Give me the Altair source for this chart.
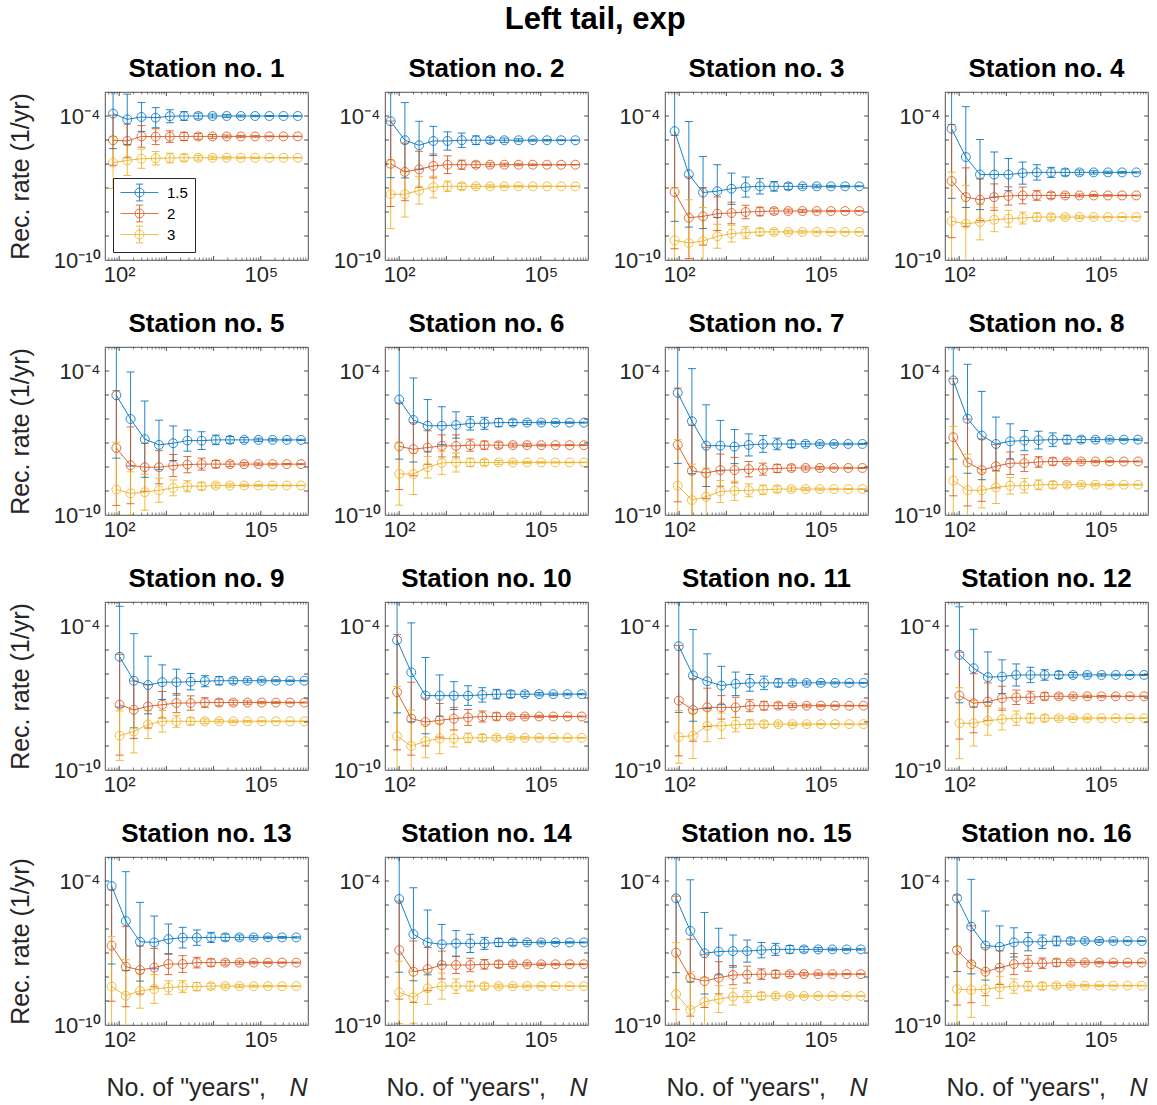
import altair as alt
import pandas as pd

FONT = "Liberation Sans"
FRAME = "#262626"

# ---------------- data ----------------
SERIES = ["1.5", "2", "3"]
COLORS = ["#0072BD", "#D95319", "#EDB120"]
DOUBLING = [1, 2, 4, 8, 16, 32, 64, 128, 256, 512, 1024, 2048, 4096, 8192]
# first N ("years") of each station's sequence
N_FIRST = [74, 66, 80, 69, 87, 100, 93, 75, 102, 90, 98, 101, 69, 100, 86, 90]

# log10 of recurrence rate, per station and series
S01_15 = [-3.90, -4.14, -4.04, -4.07, -4.01, -4.00, -4.00, -4.00, -4.00, -4.00, -4.00, -4.00, -4.00, -4.00]
S01_2 = [-5.01, -5.04, -4.85, -4.86, -4.86, -4.85, -4.85, -4.85, -4.85, -4.85, -4.85, -4.85, -4.85, -4.85]
S01_3 = [-5.94, -5.85, -5.78, -5.76, -5.75, -5.74, -5.74, -5.74, -5.74, -5.74, -5.74, -5.74, -5.74, -5.74]
S02_15 = [-4.22, -5.01, -5.22, -5.04, -5.04, -5.01, -5.01, -5.01, -5.01, -5.01, -5.01, -5.01, -5.01, -5.01]
S02_2 = [-5.99, -6.33, -6.22, -6.08, -6.03, -6.03, -6.03, -6.03, -6.03, -6.03, -6.03, -6.03, -6.03, -6.03]
S02_3 = [-7.26, -7.26, -7.10, -6.96, -6.93, -6.93, -6.93, -6.93, -6.93, -6.93, -6.93, -6.93, -6.93, -6.93]
S03_15 = [-4.63, -6.43, -7.19, -7.13, -7.03, -6.96, -6.93, -6.93, -6.93, -6.93, -6.93, -6.93, -6.93, -6.93]
S03_2 = [-7.17, -8.24, -8.18, -8.07, -8.04, -8.00, -7.98, -7.96, -7.96, -7.96, -7.96, -7.96, -7.96, -7.96]
S03_3 = [-9.18, -9.29, -9.21, -9.01, -8.90, -8.86, -8.83, -8.83, -8.83, -8.83, -8.83, -8.83, -8.83, -8.83]
S04_15 = [-4.53, -5.71, -6.44, -6.44, -6.44, -6.38, -6.35, -6.35, -6.35, -6.35, -6.35, -6.35, -6.35, -6.35]
S04_2 = [-6.71, -7.38, -7.49, -7.38, -7.33, -7.31, -7.31, -7.31, -7.31, -7.31, -7.31, -7.31, -7.31, -7.31]
S04_3 = [-8.38, -8.49, -8.42, -8.32, -8.28, -8.25, -8.21, -8.21, -8.21, -8.21, -8.21, -8.21, -8.21, -8.21]
S05_15 = [-5.01, -6.00, -6.84, -7.08, -7.01, -6.90, -6.90, -6.87, -6.87, -6.87, -6.87, -6.87, -6.87, -6.87]
S05_2 = [-7.21, -7.93, -8.01, -8.01, -7.94, -7.90, -7.88, -7.88, -7.88, -7.88, -7.88, -7.88, -7.88, -7.88]
S05_3 = [-8.94, -9.10, -9.05, -8.97, -8.87, -8.80, -8.80, -8.77, -8.77, -8.77, -8.77, -8.77, -8.77, -8.77]
S06_15 = [-5.19, -6.04, -6.28, -6.28, -6.25, -6.18, -6.18, -6.15, -6.15, -6.15, -6.15, -6.15, -6.15, -6.15]
S06_2 = [-7.14, -7.26, -7.19, -7.12, -7.12, -7.09, -7.09, -7.09, -7.09, -7.09, -7.09, -7.09, -7.09, -7.09]
S06_3 = [-8.29, -8.29, -8.01, -7.83, -7.81, -7.81, -7.81, -7.81, -7.81, -7.81, -7.81, -7.81, -7.81, -7.81]
S07_15 = [-4.91, -6.09, -7.11, -7.11, -7.15, -7.08, -7.04, -7.04, -7.04, -7.04, -7.04, -7.04, -7.04, -7.04]
S07_2 = [-7.08, -8.16, -8.25, -8.13, -8.13, -8.09, -8.09, -8.06, -8.04, -8.04, -8.04, -8.04, -8.04, -8.04]
S07_3 = [-8.78, -9.38, -9.24, -9.02, -8.99, -8.97, -8.95, -8.92, -8.92, -8.92, -8.92, -8.92, -8.92, -8.92]
S08_15 = [-4.39, -5.99, -6.69, -7.04, -6.93, -6.90, -6.88, -6.86, -6.86, -6.86, -6.86, -6.86, -6.86, -6.86]
S08_2 = [-6.76, -7.81, -8.13, -7.97, -7.84, -7.84, -7.79, -7.77, -7.77, -7.77, -7.77, -7.77, -7.77, -7.77]
S08_3 = [-8.57, -8.97, -8.97, -8.85, -8.78, -8.78, -8.74, -8.74, -8.74, -8.74, -8.74, -8.74, -8.74, -8.74]
S09_15 = [-5.28, -6.28, -6.46, -6.34, -6.34, -6.32, -6.30, -6.28, -6.28, -6.28, -6.28, -6.28, -6.28, -6.28]
S09_2 = [-7.28, -7.49, -7.35, -7.28, -7.21, -7.21, -7.19, -7.19, -7.19, -7.19, -7.19, -7.19, -7.19, -7.19]
S09_3 = [-8.57, -8.39, -8.11, -7.97, -7.97, -7.97, -7.97, -7.97, -7.97, -7.97, -7.97, -7.97, -7.97, -7.97]
S10_15 = [-4.59, -5.93, -6.90, -6.90, -6.90, -6.90, -6.87, -6.84, -6.84, -6.84, -6.84, -6.84, -6.84, -6.84]
S10_2 = [-6.76, -7.86, -8.00, -7.93, -7.86, -7.81, -7.77, -7.77, -7.77, -7.77, -7.77, -7.77, -7.77, -7.77]
S10_3 = [-8.59, -9.00, -8.80, -8.69, -8.69, -8.66, -8.66, -8.66, -8.66, -8.66, -8.66, -8.66, -8.66, -8.66]
S11_15 = [-4.84, -6.06, -6.30, -6.48, -6.41, -6.37, -6.37, -6.37, -6.37, -6.37, -6.37, -6.37, -6.37, -6.37]
S11_2 = [-7.11, -7.50, -7.39, -7.39, -7.39, -7.32, -7.32, -7.32, -7.32, -7.32, -7.32, -7.32, -7.32, -7.32]
S11_3 = [-8.62, -8.57, -8.16, -8.16, -8.11, -8.09, -8.09, -8.09, -8.09, -8.09, -8.09, -8.09, -8.09, -8.09]
S12_15 = [-5.20, -5.76, -6.13, -6.11, -6.04, -6.04, -6.04, -6.04, -6.04, -6.04, -6.04, -6.04, -6.04, -6.04]
S12_2 = [-6.90, -7.22, -7.15, -7.01, -6.97, -6.97, -6.93, -6.93, -6.93, -6.93, -6.93, -6.93, -6.93, -6.93]
S12_3 = [-8.05, -8.05, -7.95, -7.88, -7.84, -7.84, -7.84, -7.84, -7.84, -7.84, -7.84, -7.84, -7.84, -7.84]
S13_15 = [-4.21, -5.67, -6.53, -6.56, -6.42, -6.36, -6.36, -6.35, -6.35, -6.35, -6.35, -6.35, -6.35, -6.35]
S13_2 = [-6.69, -7.57, -7.71, -7.61, -7.46, -7.46, -7.40, -7.40, -7.40, -7.40, -7.40, -7.40, -7.40, -7.40]
S13_3 = [-8.40, -8.78, -8.58, -8.50, -8.44, -8.40, -8.40, -8.38, -8.38, -8.38, -8.38, -8.38, -8.38, -8.38]
S14_15 = [-4.75, -6.22, -6.56, -6.64, -6.60, -6.60, -6.60, -6.56, -6.56, -6.56, -6.56, -6.56, -6.56, -6.56]
S14_2 = [-6.88, -7.78, -7.67, -7.50, -7.50, -7.50, -7.47, -7.47, -7.47, -7.47, -7.47, -7.47, -7.47, -7.47]
S14_3 = [-8.64, -8.85, -8.47, -8.38, -8.38, -8.38, -8.38, -8.38, -8.38, -8.38, -8.38, -8.38, -8.38, -8.38]
S15_15 = [-4.72, -6.08, -7.01, -6.94, -6.92, -6.92, -6.88, -6.85, -6.85, -6.85, -6.85, -6.85, -6.85, -6.85]
S15_2 = [-6.99, -8.03, -8.17, -8.03, -7.92, -7.90, -7.88, -7.88, -7.88, -7.88, -7.88, -7.88, -7.88, -7.88]
S15_3 = [-8.72, -9.38, -9.03, -8.92, -8.82, -8.82, -8.79, -8.79, -8.79, -8.79, -8.79, -8.79, -8.79, -8.79]
S16_15 = [-4.72, -5.90, -6.69, -6.74, -6.56, -6.53, -6.53, -6.50, -6.50, -6.50, -6.50, -6.50, -6.50, -6.50]
S16_2 = [-6.88, -7.47, -7.78, -7.61, -7.46, -7.43, -7.43, -7.40, -7.40, -7.40, -7.40, -7.40, -7.40, -7.40]
S16_3 = [-8.50, -8.54, -8.51, -8.43, -8.38, -8.38, -8.38, -8.36, -8.36, -8.36, -8.36, -8.36, -8.36, -8.36]

# error-bar half length, in decades
E01_15 = [1.46, 1.05, 0.60, 0.42, 0.27, 0.18, 0.12, 0.08, 0.06, 0.04, 0.03, 0.02, 0.015, 0.01]
E01_2 = [1.04, 0.70, 0.45, 0.33, 0.24, 0.17, 0.12, 0.08, 0.06, 0.04, 0.03, 0.02, 0.015, 0.01]
E01_3 = [1.08, 0.63, 0.40, 0.28, 0.20, 0.14, 0.10, 0.07, 0.05, 0.035, 0.025, 0.018, 0.012, 0.01]
E02_15 = [2.35, 1.57, 1.00, 0.61, 0.38, 0.30, 0.18, 0.12, 0.09, 0.06, 0.04, 0.03, 0.02, 0.015]
E02_2 = [1.78, 1.20, 0.75, 0.50, 0.37, 0.19, 0.12, 0.08, 0.06, 0.04, 0.03, 0.02, 0.015, 0.01]
E02_3 = [1.43, 0.95, 0.57, 0.45, 0.22, 0.13, 0.08, 0.06, 0.04, 0.03, 0.02, 0.015, 0.01, 0.01]
E03_15 = [3.76, 2.20, 1.50, 1.10, 0.65, 0.42, 0.32, 0.20, 0.13, 0.08, 0.06, 0.04, 0.03, 0.02]
E03_2 = [2.36, 1.70, 1.20, 0.70, 0.45, 0.28, 0.18, 0.12, 0.08, 0.06, 0.04, 0.03, 0.02, 0.015]
E03_3 = [2.20, 1.80, 1.40, 0.50, 0.35, 0.25, 0.15, 0.10, 0.07, 0.05, 0.035, 0.025, 0.02, 0.015]
E04_15 = [2.90, 2.10, 1.46, 0.94, 0.67, 0.46, 0.32, 0.21, 0.14, 0.10, 0.07, 0.05, 0.035, 0.025]
E04_2 = [2.36, 1.22, 0.87, 0.55, 0.38, 0.35, 0.20, 0.13, 0.09, 0.06, 0.04, 0.03, 0.02, 0.015]
E04_3 = [2.04, 1.60, 0.74, 0.50, 0.35, 0.25, 0.17, 0.12, 0.08, 0.06, 0.04, 0.03, 0.02, 0.015]
E05_15 = [2.62, 1.96, 1.59, 1.03, 0.72, 0.44, 0.37, 0.20, 0.14, 0.10, 0.07, 0.05, 0.035, 0.025]
E05_2 = [2.39, 1.60, 1.00, 0.69, 0.46, 0.34, 0.25, 0.15, 0.10, 0.07, 0.05, 0.035, 0.025, 0.02]
E05_3 = [1.97, 0.90, 0.75, 0.50, 0.33, 0.23, 0.15, 0.10, 0.07, 0.05, 0.035, 0.025, 0.02, 0.015]
E06_15 = [2.48, 1.75, 1.09, 0.79, 0.55, 0.28, 0.25, 0.17, 0.12, 0.08, 0.06, 0.04, 0.03, 0.02]
E06_2 = [1.80, 1.10, 0.70, 0.46, 0.46, 0.25, 0.17, 0.12, 0.08, 0.06, 0.04, 0.03, 0.02, 0.015]
E06_3 = [1.30, 0.86, 0.45, 0.48, 0.40, 0.17, 0.12, 0.08, 0.06, 0.04, 0.03, 0.02, 0.015, 0.01]
E07_15 = [2.94, 2.19, 1.70, 1.05, 0.71, 0.46, 0.35, 0.24, 0.15, 0.10, 0.07, 0.05, 0.035, 0.025]
E07_2 = [2.37, 1.90, 1.07, 0.67, 0.53, 0.32, 0.25, 0.17, 0.12, 0.08, 0.06, 0.04, 0.03, 0.02]
E07_3 = [1.92, 1.50, 1.20, 0.46, 0.40, 0.27, 0.20, 0.13, 0.09, 0.06, 0.045, 0.03, 0.02, 0.015]
E08_15 = [3.28, 2.27, 1.84, 1.12, 0.73, 0.42, 0.37, 0.28, 0.18, 0.12, 0.08, 0.06, 0.04, 0.03]
E08_2 = [2.44, 1.81, 1.30, 0.90, 0.47, 0.35, 0.22, 0.15, 0.10, 0.07, 0.05, 0.035, 0.025, 0.02]
E08_3 = [2.26, 1.50, 0.73, 0.67, 0.35, 0.30, 0.20, 0.14, 0.10, 0.07, 0.05, 0.035, 0.025, 0.02]
E09_15 = [2.10, 1.96, 1.20, 0.72, 0.54, 0.34, 0.23, 0.17, 0.11, 0.08, 0.06, 0.04, 0.03, 0.02]
E09_2 = [2.10, 1.20, 0.90, 0.55, 0.40, 0.30, 0.20, 0.14, 0.10, 0.07, 0.05, 0.035, 0.025, 0.02]
E09_3 = [1.03, 0.90, 0.58, 0.45, 0.25, 0.15, 0.10, 0.07, 0.05, 0.035, 0.025, 0.02, 0.015, 0.01]
E10_15 = [3.03, 2.06, 1.59, 0.86, 0.58, 0.41, 0.30, 0.20, 0.14, 0.10, 0.07, 0.05, 0.035, 0.025]
E10_2 = [2.40, 1.52, 1.00, 0.70, 0.47, 0.33, 0.23, 0.15, 0.10, 0.07, 0.05, 0.035, 0.025, 0.02]
E10_3 = [2.07, 1.50, 0.69, 0.63, 0.35, 0.20, 0.14, 0.10, 0.07, 0.05, 0.035, 0.025, 0.02, 0.015]
E11_15 = [2.76, 1.91, 1.14, 0.80, 0.49, 0.35, 0.28, 0.17, 0.12, 0.08, 0.06, 0.04, 0.03, 0.02]
E11_2 = [2.30, 1.30, 0.80, 0.49, 0.42, 0.25, 0.18, 0.12, 0.08, 0.06, 0.04, 0.03, 0.02, 0.015]
E11_3 = [1.10, 0.95, 0.66, 0.53, 0.30, 0.18, 0.13, 0.09, 0.06, 0.045, 0.03, 0.02, 0.015, 0.01]
E12_15 = [2.00, 1.62, 1.05, 0.70, 0.46, 0.32, 0.22, 0.15, 0.10, 0.07, 0.05, 0.035, 0.025, 0.02]
E12_2 = [1.81, 1.23, 0.78, 0.50, 0.30, 0.25, 0.15, 0.10, 0.07, 0.05, 0.035, 0.025, 0.02, 0.015]
E12_3 = [1.48, 0.95, 0.60, 0.45, 0.30, 0.20, 0.13, 0.09, 0.06, 0.045, 0.03, 0.02, 0.015, 0.01]
E13_15 = [3.25, 2.06, 1.64, 1.10, 0.63, 0.43, 0.32, 0.21, 0.14, 0.10, 0.07, 0.05, 0.035, 0.025]
E13_2 = [2.32, 1.67, 1.00, 0.80, 0.44, 0.35, 0.22, 0.15, 0.10, 0.07, 0.05, 0.035, 0.025, 0.02]
E13_3 = [2.08, 1.50, 0.72, 0.60, 0.28, 0.25, 0.17, 0.12, 0.08, 0.06, 0.04, 0.03, 0.02, 0.015]
E14_15 = [3.05, 1.94, 1.35, 0.83, 0.53, 0.38, 0.25, 0.17, 0.12, 0.08, 0.06, 0.04, 0.03, 0.02]
E14_2 = [2.04, 1.28, 0.90, 0.58, 0.35, 0.28, 0.20, 0.14, 0.10, 0.07, 0.05, 0.035, 0.025, 0.02]
E14_3 = [1.30, 1.08, 0.67, 0.54, 0.30, 0.20, 0.12, 0.08, 0.06, 0.04, 0.03, 0.02, 0.015, 0.01]
E15_15 = [3.10, 2.13, 1.70, 0.97, 0.67, 0.46, 0.32, 0.25, 0.16, 0.11, 0.08, 0.055, 0.04, 0.03]
E15_2 = [2.36, 1.60, 1.10, 0.67, 0.40, 0.35, 0.22, 0.15, 0.10, 0.07, 0.05, 0.035, 0.025, 0.02]
E15_3 = [2.15, 1.60, 1.00, 0.56, 0.35, 0.25, 0.15, 0.10, 0.07, 0.05, 0.035, 0.025, 0.02, 0.015]
E16_15 = [3.05, 1.97, 1.44, 0.87, 0.61, 0.38, 0.28, 0.20, 0.13, 0.09, 0.065, 0.045, 0.03, 0.02]
E16_2 = [2.29, 1.60, 1.00, 0.70, 0.44, 0.33, 0.22, 0.15, 0.10, 0.07, 0.05, 0.035, 0.025, 0.02]
E16_3 = [1.76, 1.14, 0.68, 0.46, 0.30, 0.20, 0.14, 0.10, 0.07, 0.05, 0.035, 0.025, 0.02, 0.015]

CENTERS = [
    [S01_15, S01_2, S01_3], [S02_15, S02_2, S02_3], [S03_15, S03_2, S03_3], [S04_15, S04_2, S04_3],
    [S05_15, S05_2, S05_3], [S06_15, S06_2, S06_3], [S07_15, S07_2, S07_3], [S08_15, S08_2, S08_3],
    [S09_15, S09_2, S09_3], [S10_15, S10_2, S10_3], [S11_15, S11_2, S11_3], [S12_15, S12_2, S12_3],
    [S13_15, S13_2, S13_3], [S14_15, S14_2, S14_3], [S15_15, S15_2, S15_3], [S16_15, S16_2, S16_3],
]
ERRORS = [
    [E01_15, E01_2, E01_3], [E02_15, E02_2, E02_3], [E03_15, E03_2, E03_3], [E04_15, E04_2, E04_3],
    [E05_15, E05_2, E05_3], [E06_15, E06_2, E06_3], [E07_15, E07_2, E07_3], [E08_15, E08_2, E08_3],
    [E09_15, E09_2, E09_3], [E10_15, E10_2, E10_3], [E11_15, E11_2, E11_3], [E12_15, E12_2, E12_3],
    [E13_15, E13_2, E13_3], [E14_15, E14_2, E14_3], [E15_15, E15_2, E15_3], [E16_15, E16_2, E16_3],
]

X_DOMAIN = [50, 1e6]
Y_DOMAIN = [1e-10, 1e-3]
X_LABELED = [1e2, 1e5]
Y_LABELED = [1e-10, 1e-4]
X_DECADES = [1e2, 1e3, 1e4, 1e5]
X_MINOR = [60, 70, 80, 90, 200, 300, 400, 500, 600, 700, 800, 900,
           2e3, 3e3, 4e3, 5e3, 6e3, 7e3, 8e3, 9e3, 2e4, 3e4, 4e4, 5e4, 6e4, 7e4, 8e4, 9e4,
           2e5, 3e5, 4e5, 5e5, 6e5, 7e5, 8e5, 9e5]
Y_DECADES = [1e-9, 1e-8, 1e-7, 1e-6, 1e-5, 1e-4]

# ---------------- layout ----------------
W, H = 203, 168
TICK = 4
MINOR = 2.5

xs = alt.Scale(type="log", domain=X_DOMAIN, nice=False)
ys = alt.Scale(type="log", domain=Y_DOMAIN, nice=False)
cs = alt.Scale(domain=SERIES, range=COLORS)

# legend glyph: line + open circle + capped error bar (unit = half of sqrt(symbolSize))
LEGEND_PATH = ("M-3.17,0H3.17M0,-1.4V1.4M-0.6,-1.4H0.6M-0.6,1.4H0.6"
               "M-0.75,0A0.75,0.75,0,1,1,0.75,0A0.75,0.75,0,1,1,-0.75,0")


def station_frame(i):
    rows = []
    for k, name in enumerate(SERIES):
        for j, mult in enumerate(DOUBLING):
            c = CENTERS[i][k][j]
            e = ERRORS[i][k][j]
            rows.append({
                "series": name,
                "N": N_FIRST[i] * mult,
                "rate": 10 ** c,
                "lo": 10 ** (c - e),
                "hi": 10 ** (c + e),
            })
    return pd.DataFrame(rows)


def panel(i):
    row, col = divmod(i, 4)
    last_row = row == 3
    first_col = col == 0

    xaxis_kw = dict(values=X_LABELED,
                    labelExpr="datum.value < 1000 ? '10²' : '10⁵'",
                    ticks=False, domain=False, grid=False,
                    labelFontSize=22, labelPadding=4, labelOverlap=False,
                    labelFont=FONT, labelColor=FRAME)
    if last_row:
        xaxis_kw.update(title='No. of "years",', titleFontSize=25, titleFontWeight="normal",
                        titleFont=FONT, titleColor=FRAME, titleX=1, titleY=70,
                        titleAlign="left", titleBaseline="alphabetic")
    else:
        xaxis_kw.update(title=None)
    xaxis = alt.Axis(**xaxis_kw)

    yaxis_kw = dict(values=Y_LABELED,
                    labelExpr="datum.value < 1e-7 ? '10⁻¹⁰' : '10⁻⁴'",
                    ticks=False, domain=False, grid=False,
                    labelFontSize=22, labelPadding=5, labelOverlap=False,
                    labelFont=FONT, labelColor=FRAME, labelBaseline="middle")
    if first_col:
        yaxis_kw.update(title="Rec. rate (1/yr)", titleFontSize=25, titleFontWeight="normal",
                        titleFont=FONT, titleColor=FRAME, titleX=-77, titleY=H / 2,
                        titleAngle=270, titleAlign="center", titleBaseline="alphabetic")
    else:
        yaxis_kw.update(title=None)
    yaxis = alt.Axis(**yaxis_kw)

    # x axis for secondary layers: shared axis normally, none when axes are independent
    xaxis_sec = None if last_row else xaxis

    if i == 0:
        legend = alt.Legend(
            title=None, orient="bottom-left", offset=8,
            fillColor="white", strokeColor=FRAME, padding=7, cornerRadius=0,
            symbolType=LEGEND_PATH, symbolSize=144, symbolStrokeWidth=0.9,
            symbolFillColor="transparent",
            symbolOffset=12, labelOffset=20, rowPadding=0,
            labelFont=FONT, labelFontSize=15, labelColor="#000000")
    else:
        legend = None
    C = alt.Color("series:N", scale=cs, legend=legend)
    S = alt.Stroke("series:N", scale=cs, legend=None)
    F = alt.Fill("series:N", scale=cs, legend=None)

    base = alt.Chart(station_frame(i))
    Xs = alt.X("N:Q", scale=xs, axis=xaxis_sec)

    err = base.mark_rule(clip=True, strokeWidth=1, opacity=0.85).encode(
        x=alt.X("N:Q", scale=xs, axis=xaxis),
        y=alt.Y("lo:Q", scale=ys, axis=yaxis), y2="hi:Q", stroke=S)
    cap_lo = base.mark_tick(clip=True, orient="horizontal", size=8, thickness=1, opacity=0.85).encode(
        x=Xs, y=alt.Y("lo:Q", scale=ys, axis=yaxis), fill=F)
    cap_hi = base.mark_tick(clip=True, orient="horizontal", size=8, thickness=1, opacity=0.85).encode(
        x=Xs, y=alt.Y("hi:Q", scale=ys, axis=yaxis), fill=F)
    line = base.mark_line(clip=True, strokeWidth=0.9).encode(
        x=Xs, y=alt.Y("rate:Q", scale=ys, axis=yaxis), stroke=S, order="N:Q")
    pts = base.mark_point(clip=True, shape="circle", filled=False, size=80,
                          strokeWidth=0.9, opacity=0.9).encode(
        x=Xs, y=alt.Y("rate:Q", scale=ys, axis=yaxis), color=C)

    ydec = alt.Chart(pd.DataFrame({"v": Y_DECADES}))
    yv = alt.Y("v:Q", scale=ys, axis=yaxis)
    t_left = ydec.mark_rule(color=FRAME, strokeWidth=0.8).encode(y=yv, x=alt.value(0), x2=alt.value(TICK))
    t_right = ydec.mark_rule(color=FRAME, strokeWidth=0.8).encode(y=yv, x=alt.value(W), x2=alt.value(W - TICK))

    xdec = alt.Chart(pd.DataFrame({"v": X_DECADES}))
    if last_row:
        naxis = alt.Axis(orient="bottom", labels=False, ticks=False, domain=False, grid=False,
                         title="N", titleFontSize=25, titleFontStyle="italic", titleFontWeight="normal",
                         titleFont=FONT, titleColor=FRAME, titleX=184, titleY=70,
                         titleAlign="left", titleBaseline="alphabetic")
        xv_n = alt.X("v:Q", scale=xs, axis=naxis)
    else:
        xv_n = alt.X("v:Q", scale=xs, axis=xaxis)
    xv = alt.X("v:Q", scale=xs, axis=xaxis_sec)
    t_bottom = xdec.mark_rule(color=FRAME, strokeWidth=0.8).encode(x=xv_n, y=alt.value(H), y2=alt.value(H - TICK))
    t_top = xdec.mark_rule(color=FRAME, strokeWidth=0.8).encode(x=xv, y=alt.value(0), y2=alt.value(TICK))
    xmin = alt.Chart(pd.DataFrame({"v": X_MINOR}))
    m_bottom = xmin.mark_rule(color=FRAME, strokeWidth=0.6).encode(x=xv, y=alt.value(H), y2=alt.value(H - MINOR))
    m_top = xmin.mark_rule(color=FRAME, strokeWidth=0.6).encode(x=xv, y=alt.value(0), y2=alt.value(MINOR))

    layered = alt.layer(err, cap_lo, cap_hi, line, pts,
                        t_left, t_right, t_bottom, t_top, m_bottom, m_top).properties(
        width=W, height=H,
        title=alt.TitleParams(f"Station no. {i + 1}", fontSize=26, fontWeight="bold",
                              font=FONT, color="#000000", anchor="middle", frame="group",
                              offset=10))
    if last_row:
        layered = layered.resolve_axis(x="independent")
    return layered


panels = [panel(i) for i in range(16)]

chart = alt.concat(
    *panels, columns=4, spacing={"row": 87, "column": 77}, bounds="flush",
    title=alt.TitleParams("Left tail, exp", fontSize=31, fontWeight="bold", font=FONT,
                          color="#000000", anchor="middle", offset=19, dx=17),
).resolve_legend(color="independent").properties(
    padding={"left": 7, "top": 4, "right": 5, "bottom": 5},
    background="white",
).configure_view(stroke=FRAME, strokeWidth=0.8)

chart.save("out.html", embed_options={"renderer": "svg", "actions": False})
